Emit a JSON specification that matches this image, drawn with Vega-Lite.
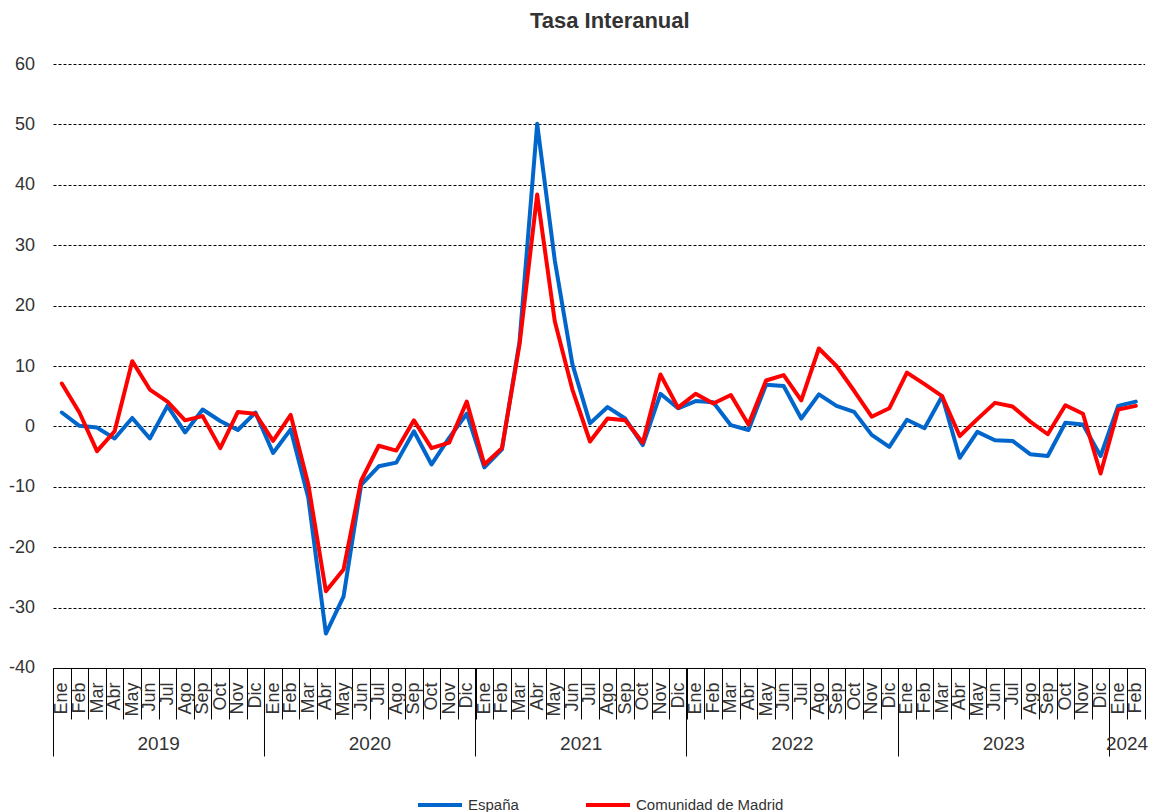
{
  "$schema": "https://vega.github.io/schema/vega-lite/v6.json",
  "width": 1091.6,
  "height": 604,
  "padding": {"left": 8, "top": 10, "right": 0, "bottom": 0},
  "background": "white",
  "config": {"view": {"stroke": null}, "font": "Liberation Sans"},
  "title": {"text": "Tasa Interanual", "fontSize": 22, "fontWeight": "bold", "font": "Liberation Sans", "color": "#333333", "offset": 22, "dx": 11},
  "datasets": {
    "d": [
      {"k":0,"serie":"España","v":2.3},{"k":1,"serie":"España","v":0.1},{"k":2,"serie":"España","v":-0.2},{"k":3,"serie":"España","v":-2.0},{"k":4,"serie":"España","v":1.4},{"k":5,"serie":"España","v":-2.0},{"k":6,"serie":"España","v":3.4},{"k":7,"serie":"España","v":-1.0},{"k":8,"serie":"España","v":2.8},{"k":9,"serie":"España","v":0.9},{"k":10,"serie":"España","v":-0.6},{"k":11,"serie":"España","v":2.3},
      {"k":12,"serie":"España","v":-4.4},{"k":13,"serie":"España","v":-0.5},{"k":14,"serie":"España","v":-11.8},{"k":15,"serie":"España","v":-34.3},{"k":16,"serie":"España","v":-28.2},{"k":17,"serie":"España","v":-9.7},{"k":18,"serie":"España","v":-6.6},{"k":19,"serie":"España","v":-6.0},{"k":20,"serie":"España","v":-0.8},{"k":21,"serie":"España","v":-6.3},{"k":22,"serie":"España","v":-1.9},{"k":23,"serie":"España","v":2.1},
      {"k":24,"serie":"España","v":-6.8},{"k":25,"serie":"España","v":-3.8},{"k":26,"serie":"España","v":14.1},{"k":27,"serie":"España","v":50.1},{"k":28,"serie":"España","v":27.5},{"k":29,"serie":"España","v":10.3},{"k":30,"serie":"España","v":0.5},{"k":31,"serie":"España","v":3.2},{"k":32,"serie":"España","v":1.3},{"k":33,"serie":"España","v":-3.1},{"k":34,"serie":"España","v":5.4},{"k":35,"serie":"España","v":3.0},
      {"k":36,"serie":"España","v":4.2},{"k":37,"serie":"España","v":4.0},{"k":38,"serie":"España","v":0.2},{"k":39,"serie":"España","v":-0.6},{"k":40,"serie":"España","v":6.9},{"k":41,"serie":"España","v":6.7},{"k":42,"serie":"España","v":1.3},{"k":43,"serie":"España","v":5.3},{"k":44,"serie":"España","v":3.4},{"k":45,"serie":"España","v":2.4},{"k":46,"serie":"España","v":-1.4},{"k":47,"serie":"España","v":-3.4},
      {"k":48,"serie":"España","v":1.1},{"k":49,"serie":"España","v":-0.3},{"k":50,"serie":"España","v":5.0},{"k":51,"serie":"España","v":-5.2},{"k":52,"serie":"España","v":-0.9},{"k":53,"serie":"España","v":-2.3},{"k":54,"serie":"España","v":-2.4},{"k":55,"serie":"España","v":-4.6},{"k":56,"serie":"España","v":-4.9},{"k":57,"serie":"España","v":0.6},{"k":58,"serie":"España","v":0.3},{"k":59,"serie":"España","v":-4.9},
      {"k":60,"serie":"España","v":3.4},{"k":61,"serie":"España","v":4.1},
      {"k":0,"serie":"Comunidad de Madrid","v":7.1},{"k":1,"serie":"Comunidad de Madrid","v":2.3},{"k":2,"serie":"Comunidad de Madrid","v":-4.1},{"k":3,"serie":"Comunidad de Madrid","v":-0.8},{"k":4,"serie":"Comunidad de Madrid","v":10.8},{"k":5,"serie":"Comunidad de Madrid","v":6.1},{"k":6,"serie":"Comunidad de Madrid","v":4.1},{"k":7,"serie":"Comunidad de Madrid","v":1.0},{"k":8,"serie":"Comunidad de Madrid","v":1.7},{"k":9,"serie":"Comunidad de Madrid","v":-3.6},{"k":10,"serie":"Comunidad de Madrid","v":2.4},{"k":11,"serie":"Comunidad de Madrid","v":2.1},
      {"k":12,"serie":"Comunidad de Madrid","v":-2.4},{"k":13,"serie":"Comunidad de Madrid","v":1.9},{"k":14,"serie":"Comunidad de Madrid","v":-9.6},{"k":15,"serie":"Comunidad de Madrid","v":-27.3},{"k":16,"serie":"Comunidad de Madrid","v":-23.7},{"k":17,"serie":"Comunidad de Madrid","v":-9.0},{"k":18,"serie":"Comunidad de Madrid","v":-3.2},{"k":19,"serie":"Comunidad de Madrid","v":-4.0},{"k":20,"serie":"Comunidad de Madrid","v":1.0},{"k":21,"serie":"Comunidad de Madrid","v":-3.6},{"k":22,"serie":"Comunidad de Madrid","v":-2.7},{"k":23,"serie":"Comunidad de Madrid","v":4.1},
      {"k":24,"serie":"Comunidad de Madrid","v":-6.3},{"k":25,"serie":"Comunidad de Madrid","v":-3.6},{"k":26,"serie":"Comunidad de Madrid","v":13.6},{"k":27,"serie":"Comunidad de Madrid","v":38.4},{"k":28,"serie":"Comunidad de Madrid","v":17.4},{"k":29,"serie":"Comunidad de Madrid","v":6.1},{"k":30,"serie":"Comunidad de Madrid","v":-2.5},{"k":31,"serie":"Comunidad de Madrid","v":1.3},{"k":32,"serie":"Comunidad de Madrid","v":1.0},{"k":33,"serie":"Comunidad de Madrid","v":-2.7},{"k":34,"serie":"Comunidad de Madrid","v":8.6},{"k":35,"serie":"Comunidad de Madrid","v":3.1},
      {"k":36,"serie":"Comunidad de Madrid","v":5.4},{"k":37,"serie":"Comunidad de Madrid","v":3.8},{"k":38,"serie":"Comunidad de Madrid","v":5.2},{"k":39,"serie":"Comunidad de Madrid","v":0.3},{"k":40,"serie":"Comunidad de Madrid","v":7.6},{"k":41,"serie":"Comunidad de Madrid","v":8.5},{"k":42,"serie":"Comunidad de Madrid","v":4.3},{"k":43,"serie":"Comunidad de Madrid","v":12.9},{"k":44,"serie":"Comunidad de Madrid","v":10.0},{"k":45,"serie":"Comunidad de Madrid","v":5.9},{"k":46,"serie":"Comunidad de Madrid","v":1.6},{"k":47,"serie":"Comunidad de Madrid","v":3.0},
      {"k":48,"serie":"Comunidad de Madrid","v":8.9},{"k":49,"serie":"Comunidad de Madrid","v":7.0},{"k":50,"serie":"Comunidad de Madrid","v":5.0},{"k":51,"serie":"Comunidad de Madrid","v":-1.6},{"k":52,"serie":"Comunidad de Madrid","v":1.2},{"k":53,"serie":"Comunidad de Madrid","v":3.9},{"k":54,"serie":"Comunidad de Madrid","v":3.3},{"k":55,"serie":"Comunidad de Madrid","v":0.8},{"k":56,"serie":"Comunidad de Madrid","v":-1.3},{"k":57,"serie":"Comunidad de Madrid","v":3.5},{"k":58,"serie":"Comunidad de Madrid","v":2.1},{"k":59,"serie":"Comunidad de Madrid","v":-7.8},
      {"k":60,"serie":"Comunidad de Madrid","v":2.8},{"k":61,"serie":"Comunidad de Madrid","v":3.4}
    ]
  },
  "data": {"name": "d"},
  "resolve": {"axis": {"x": "independent"}},
  "layer": [
    {
      "mark": {"type": "line", "strokeWidth": 4, "strokeJoin": "round", "strokeCap": "round"},
      "encoding": {
        "x": {
          "field": "k", "type": "ordinal",
          "scale": {"type": "band", "paddingInner": 0, "paddingOuter": 0},
          "axis": {
            "orient": "bottom", "title": null, "grid": false,
            "domain": true, "domainColor": "#000000", "domainWidth": 1,
            "ticks": true, "tickBand": "extent", "tickSize": 51, "tickColor": "#000000", "tickWidth": 1,
            "labelExpr": "['Ene','Feb','Mar','Abr','May','Jun','Jul','Ago','Sep','Oct','Nov','Dic'][datum.value % 12]",
            "labelAngle": 270, "labelAlign": "right", "labelBaseline": "middle",
            "labelPadding": -37, "labelFontSize": 18, "labelFont": "Liberation Sans", "labelColor": "#333333",
            "labelOverlap": false, "labelBound": false, "labelFlush": false
          }
        },
        "y": {
          "field": "v", "type": "quantitative",
          "scale": {"domain": [-40, 60], "nice": false, "zero": false},
          "axis": {
            "title": null, "values": [-40, -30, -20, -10, 0, 10, 20, 30, 40, 50, 60],
            "labelExpr": "'' + datum.value",
            "domain": false, "ticks": false, "grid": true,
            "gridColor": "#000000", "gridWidth": 1, "gridDash": [3, 2],
            "gridOpacity": {"condition": {"test": "datum.value === -40", "value": 0}, "value": 1},
            "labelFontSize": 18, "labelFont": "Liberation Sans", "labelColor": "#333333", "labelPadding": 18.5
          }
        },
        "color": {
          "field": "serie", "type": "nominal",
          "scale": {"domain": ["España", "Comunidad de Madrid"], "range": ["#0066CC", "#FF0000"]},
          "legend": {
            "orient": "none", "legendX": 363, "legendY": 717, "direction": "horizontal", "title": null,
            "symbolType": "stroke", "symbolStrokeWidth": 4, "symbolSize": 1936,
            "labelFontSize": 15, "labelFont": "Liberation Sans", "labelColor": "#333333",
            "columnPadding": 59, "labelOffset": 4
          }
        }
      }
    },
    {
      "mark": {"type": "point", "opacity": 0},
      "encoding": {
        "x": {
          "field": "k", "type": "ordinal",
          "axis": {
            "orient": "bottom", "title": null, "grid": false, "domain": false,
            "values": [0, 6, 12, 18, 24, 30, 36, 42, 48, 54, 60, 61],
            "bandPosition": 0,
            "ticks": true, "tickSize": 88, "tickColor": "#000000", "tickWidth": 1,
            "tickOpacity": {"condition": {"test": "datum.value % 12 === 0", "value": 1}, "value": 0},
            "labelExpr": "datum.value === 61 ? '2024' : (datum.value % 12 === 6 ? '' + (2019 + floor(datum.value / 12)) : '')",
            "labelAngle": 0, "labelAlign": "center", "labelBaseline": "middle",
            "labelOffset": -8.8,
            "labelPadding": -12, "labelFontSize": 19, "labelFont": "Liberation Sans", "labelColor": "#333333",
            "labelOverlap": false, "labelBound": false, "labelFlush": false
          }
        }
      }
    }
  ]
}
